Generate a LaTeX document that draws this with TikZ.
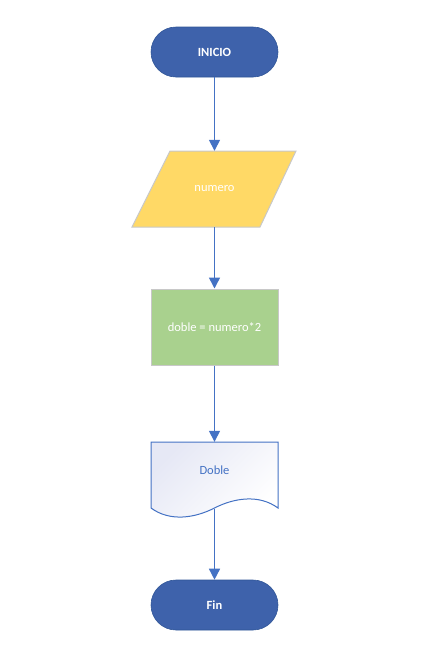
\documentclass[tikz,border=0pt]{standalone}
\usepackage{fontspec}
\setmainfont{Carlito}
\usetikzlibrary{arrows.meta}
\definecolor{termblue}{RGB}{62,98,171}
\definecolor{termedge}{RGB}{47,85,151}
\definecolor{linkblue}{RGB}{68,114,196}
\definecolor{ioyellow}{RGB}{255,217,102}
\definecolor{procgreen}{RGB}{169,209,142}
\definecolor{edgegray}{RGB}{200,200,200}
\definecolor{docshade}{RGB}{230,232,245}
\tikzset{
  terminal/.style={rectangle, rounded corners=25pt, draw=termedge, line width=0.6pt, fill=termblue,
    minimum width=127pt, minimum height=50pt, text=white, font=\fontsize{12.5}{14}\selectfont\bfseries},
  frame/.style={rectangle, inner sep=0pt, font=\fontsize{12.5}{14}\selectfont},
  link/.style={linkblue, line width=1.5pt, -{Triangle[width=11pt,length=11pt]}},
}
\begin{document}
\begin{tikzpicture}[x=1pt,y=-1pt]
\useasboundingbox (0,0) rectangle (432,651);
% INICIO
\node[terminal] (ini) at (214.5,52) {INICIO};
% parallelogram
\fill[ioyellow, draw=edgegray, line width=1pt] (170,151) -- (296,151) -- (260,227) -- (132,227) -- cycle;
\node[frame, minimum width=126pt, minimum height=76pt, text=white] (num) at (214.5,189) {numero};
% process
\node[frame, draw=edgegray, line width=1pt, fill=procgreen, minimum width=127pt, minimum height=76pt, text=white] (proc) at (214.5,327) {doble = numero*2};
% document
\shade[left color=docshade, right color=white, shading angle=45]
  (151,442) -- (278,442) -- (278,508) .. controls (259,494) and (234,498) .. (214.5,508)
  .. controls (195,518) and (170,522) .. (151,508) -- cycle;
\draw[linkblue, line width=1pt]
  (151,442) -- (278,442) -- (278,508) .. controls (259,494) and (234,498) .. (214.5,508)
  .. controls (195,518) and (170,522) .. (151,508) -- cycle;
\node[frame, minimum width=127pt, minimum height=56pt, text=linkblue] (doc) at (214.5,470) {Doble};
\coordinate (docout) at (214.5,509);
% Fin
\node[terminal] (fin) at (214.5,605) {Fin};
% connectors
\draw[link] (ini.south) -- (num.north);
\draw[link] (num.south) -- (proc.north);
\draw[link] (proc.south) -- (doc.north);
\draw[link] (docout) -- (fin.north);
\end{tikzpicture}
\end{document}
